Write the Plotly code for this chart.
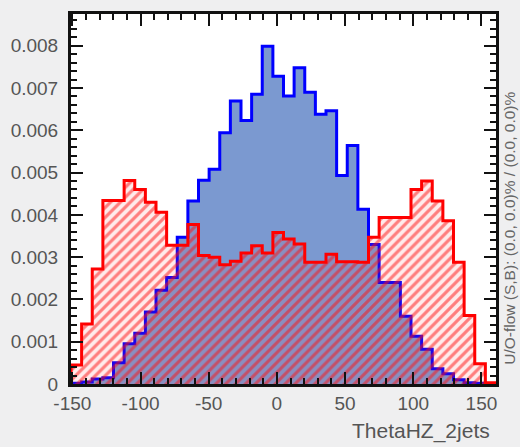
import numpy as np
import plotly.graph_objects as go

# ---- data ----
x_min = -151.0
x_max = 160.7
n_bins = 40

signal = [0.00002, 0.00005, 0.00012, 0.00015, 0.00050, 0.00095, 0.00120, 0.00170,
          0.00222, 0.00252, 0.00347, 0.00433, 0.00482, 0.00508, 0.00594, 0.00669,
          0.00623, 0.00685, 0.00799, 0.00728, 0.00681, 0.00748, 0.00690, 0.00638,
          0.00646, 0.00493, 0.00564, 0.00413, 0.00330, 0.00240, 0.00240, 0.00160,
          0.00113, 0.00082, 0.00036, 0.00024, 0.00010, 0.00003, 0.00002, 0.00001]

background = [0.00045, 0.00142, 0.00272, 0.00434, 0.00434, 0.00481, 0.00460, 0.00430,
              0.00406, 0.00328, 0.00328, 0.00377, 0.00304, 0.00300, 0.00282, 0.00290,
              0.00310, 0.00327, 0.00310, 0.00358, 0.00343, 0.00331, 0.00288, 0.00288,
              0.00307, 0.00289, 0.00289, 0.00288, 0.00347, 0.00394, 0.00394, 0.00394,
              0.00460, 0.00480, 0.00433, 0.00386, 0.00288, 0.00162, 0.00048, 0.00003]

x_tick_vals = [-150, -100, -50, 0, 50, 100, 150]
x_tick_text = ["-150", "-100", "-50", "0", "50", "100", "150"]
y_tick_vals = [0, 0.001, 0.002, 0.003, 0.004, 0.005, 0.006, 0.007, 0.008]
y_tick_text = ["0", "0.001", "0.002", "0.003", "0.004", "0.005", "0.006", "0.007", "0.008"]

x_title = "ThetaHZ_2jets"
overflow_text = "U/O-flow (S,B): (0.0, 0.0)% / (0.0, 0.0)%"

# ---- build step outlines from bin edges ----
edges = np.linspace(x_min, x_max, n_bins + 1)


def step_xy(vals):
    xs = [edges[0]] + list(edges[:-1]) + [edges[-1], edges[-1]]
    ys = [0.0] + list(vals) + [vals[-1], 0.0]
    return xs, ys


sx, sy = step_xy(signal)
bx, by = step_xy(background)

fig = go.Figure()

# signal: filled blue
fig.add_trace(go.Scatter(
    x=sx, y=sy, mode="lines", line=dict(shape="hv", color="#0000ff", width=3),
    fill="tozeroy", fillcolor="#7b99d0", showlegend=False, hoverinfo="skip"))

# background: hatched red
fig.add_trace(go.Scatter(
    x=bx, y=by, mode="lines", line=dict(shape="hv", color="#ff0000", width=3),
    fill="tozeroy", fillcolor="rgba(0,0,0,0)",
    fillpattern=dict(shape="/", fgcolor="#ff1010", bgcolor="rgba(255,60,60,0.10)",
                     size=7, solidity=0.45),
    showlegend=False, hoverinfo="skip"))

axis_line = "#111111"
tick_font = dict(family="Liberation Sans, Arial, sans-serif", size=19, color="#555555")

fig.update_xaxes(
    range=[x_min, x_max], showgrid=False, zeroline=False,
    showline=True, linecolor=axis_line, linewidth=3, mirror="ticks",
    ticks="inside", ticklen=12, tickwidth=2, tickcolor=axis_line,
    tickvals=x_tick_vals, ticktext=x_tick_text, tickfont=tick_font,
    minor=dict(ticks="inside", dtick=10, tick0=0, ticklen=6, tickwidth=2, tickcolor=axis_line),
)
fig.update_yaxes(
    range=[0, 0.00875], showgrid=False, zeroline=False,
    showline=True, linecolor=axis_line, linewidth=3, mirror="ticks",
    ticks="inside", ticklen=12, tickwidth=2, tickcolor=axis_line,
    tickvals=y_tick_vals, ticktext=y_tick_text, tickfont=tick_font,
    ticklabelstandoff=6,
    minor=dict(ticks="inside", dtick=0.0002, tick0=0, ticklen=6, tickwidth=2, tickcolor=axis_line),
)

fig.add_annotation(
    text=x_title, xref="paper", yref="paper", x=0.9906, y=-0.088,
    xanchor="right", yanchor="top", showarrow=False,
    font=dict(family="Liberation Sans, Arial, sans-serif", size=21, color="#555555"))

fig.add_annotation(
    text=overflow_text, xref="paper", yref="paper", x=1.031, y=0.42,
    xanchor="center", yanchor="middle", textangle=-90, showarrow=False,
    font=dict(family="Liberation Sans, Arial, sans-serif", size=15.5, color="#666666"))

fig.update_layout(
    width=520, height=447,
    margin=dict(l=71, r=24, t=11, b=63),
    paper_bgcolor="#efeff0", plot_bgcolor="#ffffff",
    showlegend=False,
)

fig.write_html("out.html")
